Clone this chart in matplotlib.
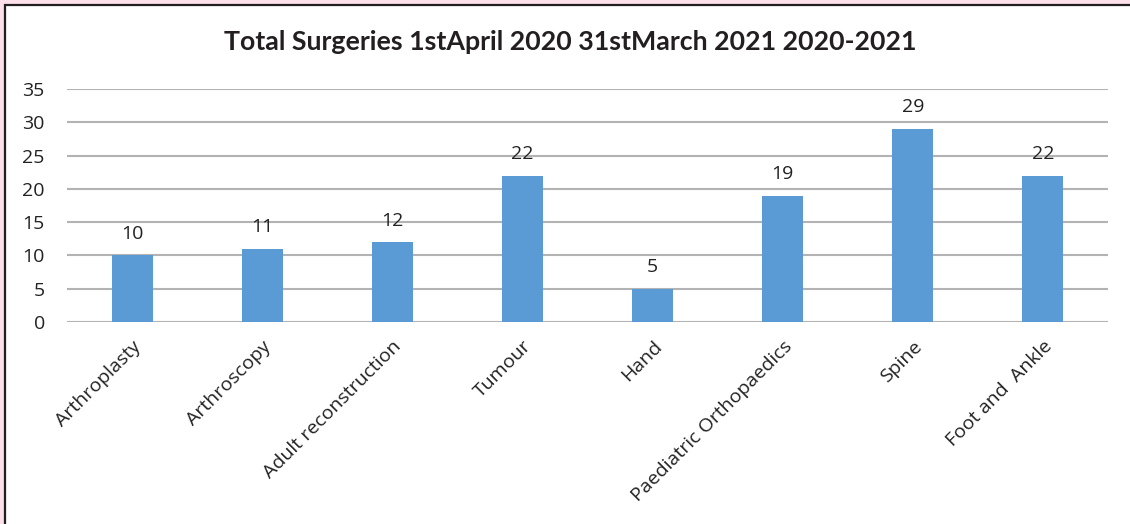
import matplotlib.pyplot as plt
from matplotlib.patches import Rectangle

# data
categories = ['Arthroplasty', 'Arthroscopy', 'Adult reconstruction', 'Tumour',
              'Hand', 'Paediatric Orthopaedics', 'Spine', 'Foot and  Ankle']
surgeries = [10, 11, 12, 22, 5, 19, 29, 22]
yticks = [0, 5, 10, 15, 20, 25, 30, 35]
title = 'Total Surgeries 1stApril 2020 31stMarch 2021 2020-2021'

plt.rcParams['font.family'] = ['Open Sans', 'DejaVu Sans']

W, H = 1130, 524
fig = plt.figure(figsize=(W / 100, H / 100), dpi=100, facecolor='#fce1ea')

# white page with dark frame on top/left
fig.patches.append(Rectangle((5 / W, -0.2), 1.2, (H - 5) / H + 0.2,
                             transform=fig.transFigure, facecolor='white',
                             edgecolor='#231f20', linewidth=1.6, zorder=-5))

ax = fig.add_axes([67 / W, 1 - 322 / H, (1108 - 67) / W, (322 - 89) / H])
ax.set_facecolor('none')

x = range(len(categories))
ax.bar(x, surgeries, width=0.315, color='#5b9bd5', zorder=3)

for i, v in enumerate(surgeries):
    ax.annotate(str(v), (i, v), xytext=(0, 9), textcoords='offset points',
                ha='center', va='bottom', fontsize=14, color='#222222')

ax.set_xlim(-0.5, len(categories) - 0.5)
ax.set_ylim(0, 35)
ax.set_yticks(yticks)
ax.yaxis.grid(True, color='#b3b3b3', linewidth=1.5)
ax.set_axisbelow(True)
for s in ax.spines.values():
    s.set_visible(False)
ax.tick_params(axis='both', length=0, labelsize=14, colors='#222222')
ax.tick_params(axis='y', pad=16)
ax.set_xticks(list(x))
ax.set_xticklabels(categories, rotation=45, ha='right', rotation_mode='anchor')
ax.tick_params(axis='x', pad=11)

fig.text(570 / W, 1 - 42 / H, title, ha='center', va='center',
         fontsize=19.3, fontweight='bold', color='#231f20',
         family=['Lato', 'DejaVu Sans'])

fig.savefig('out.png', dpi=100, facecolor=fig.get_facecolor())
